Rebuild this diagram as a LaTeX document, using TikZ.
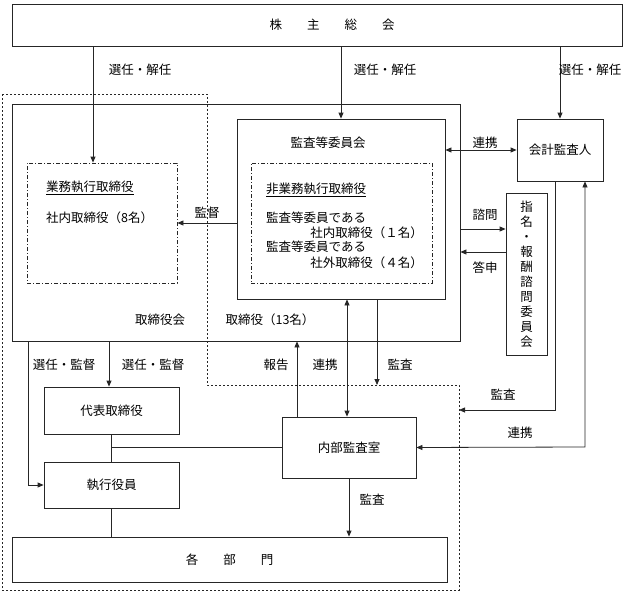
\documentclass[tikz,border=0pt]{standalone}
\usepackage{fontspec}
\setmainfont{Noto Sans CJK JP}
\usetikzlibrary{arrows.meta}
\colorlet{fg}{black!85}
\tikzset{
	box/.style={draw=fg,line width=0.8pt,inner sep=0pt,rectangle},
	dbox/.style={box,dash pattern=on 4pt off 2pt on 1pt off 2pt},
	lbl/.style={inner sep=1pt},
	ln/.style={draw=fg,line width=0.8pt},
	arr/.style={ln,-{Triangle[length=6pt,width=5pt]}},
	darr/.style={ln,{Triangle[length=6pt,width=5pt]}-{Triangle[length=6pt,width=5pt]}},
}

\begin{document}
\begin{tikzpicture}[x=1pt,y=-1pt,font=\fontsize{12.5}{15}\selectfont]
	    \useasboundingbox (0,0) rectangle (624,594);
	    \draw[fg,line width=0.8pt,dash pattern=on 2pt off 2pt] (2,94) -- (207,94) -- (207,385) coordinate (dl) -- (459,385) -- (459,590) -- (2,590) -- cycle;
	    \node[box,minimum width=610,minimum height=42] (soukai) at (317,25) {};
	    \node[lbl] (tsoukai) at (332,25) {株　　主　　総　　会};
	    \node[box,minimum width=448,minimum height=237] (board) at (236,222.5) {};
	    \node[box,minimum width=208,minimum height=180] (kansa) at (341,209) {};
	    \node[dbox,minimum width=181,minimum height=120] (higyomu) at (341.5,223) {};
	    \node[dbox,minimum width=150,minimum height=120] (gyomu) at (102,223) {};
	    \node[box,minimum width=86,minimum height=62] (kaikei) at (560,150) {会計監査人};
	    \node[box,minimum width=41,minimum height=162,align=center] (shimei) at (526.5,274) {指\\名\\・\\報\\酬\\諮\\問\\委\\員\\会};
	    \node[box,minimum width=135,minimum height=47] (daihyo) at (111.5,410.5) {代表取締役};
	    \node[box,minimum width=135,minimum height=46] (shikko) at (111.5,485) {執行役員};
	    \node[box,minimum width=134,minimum height=61] (naibu) at (349,447.5) {内部監査室};
	    \node[box,minimum width=435,minimum height=45] (kakubu) at (229.5,559.5) {各　　部　　門};

	    \node[lbl] (tkansa) at (328,143) {監査等委員会};
	    \node[lbl,anchor=west] (t1) at (265,190) {\underline{非業務執行取締役}};
	    \node[lbl,anchor=west] (t2) at (265,218) {監査等委員である};
	    \node[lbl,anchor=east] (t3) at (424,233) {社内取締役（１名）};
	    \node[lbl,anchor=west] (t4) at (265,247) {監査等委員である};
	    \node[lbl,anchor=east] (t5) at (424,263) {社外取締役（４名）};
	    \node[lbl,anchor=west] (t6) at (45,188) {\underline{業務執行取締役}};
	    \node[lbl,anchor=west] (t7) at (45,218) {社内取締役（8名）};
	    \node[lbl] (tboard) at (160,320) {取締役会};
	    \node[lbl] (tnum) at (270,320) {取締役（13名）};

	    \draw[arr] (soukai.south -| 93,0) -- (gyomu.north -| 93,0);
	    \draw[arr] (soukai.south -| kansa.north) -- (kansa.north);
	    \draw[arr] (soukai.south -| kaikei.north) -- (kaikei.north);
	    \node[lbl] at (140,70) {選任・解任};
	    \node[lbl] at (385,70) {選任・解任};
	    \node[lbl] at (590,70) {選任・解任};

	    \draw[arr] (kansa.west |- 0,223) -- (gyomu.east |- 0,223);
	    \node[lbl] at (207,213) {監督};
	    \draw[darr] (kansa.east |- kaikei.west) -- (kaikei.west);
	    \node[lbl] at (485,143) {連携};
	    \draw[arr] (board.east |- 0,229) -- (shimei.west |- 0,229);
	    \node[lbl] at (485,215) {諮問};
	    \draw[arr] (shimei.west |- 0,252) -- (board.east |- 0,252);
	    \node[lbl] at (485,268) {答申};

	    \draw[arr] (kaikei.south -| 555,0) -- (555,410) -- (459,410);
	    \node[lbl] at (503,395) {監査};
	    \draw[darr] (kaikei.south -| 585,0) -- (585,447) -- (naibu.east);
	    \node[lbl] at (520,433) {連携};

	    \draw[arr] (naibu.north -| 297,0) -- (board.south -| 297,0);
	    \node[lbl] at (276,365) {報告};
	    \draw[darr] (naibu.north -| 347,0) -- (kansa.south -| 347,0);
	    \node[lbl] at (325,365) {連携};
	    \draw[arr] (kansa.south -| 377,0) -- (377,0 |- dl);
	    \node[lbl] at (400,365) {監査};
	    \draw[arr] (naibu.south) -- (kakubu.north -| naibu.south);
	    \node[lbl] at (372,500) {監査};

	    \draw[arr] (board.south -| 28,0) -- (28,0 |- shikko.west) -- (shikko.west);
	    \node[lbl] at (64,365) {選任・監督};
	    \draw[arr] (board.south -| 109,0) -- (daihyo.north -| 109,0);
	    \node[lbl] at (153,365) {選任・監督};
	    \draw[ln] (daihyo.south) -- (shikko.north);
	    \draw[ln] (shikko.south) -- (kakubu.north -| shikko.south);
	    \draw[ln] (daihyo.south |- naibu.west) -- (naibu.west);
\end{tikzpicture}
\end{document}
